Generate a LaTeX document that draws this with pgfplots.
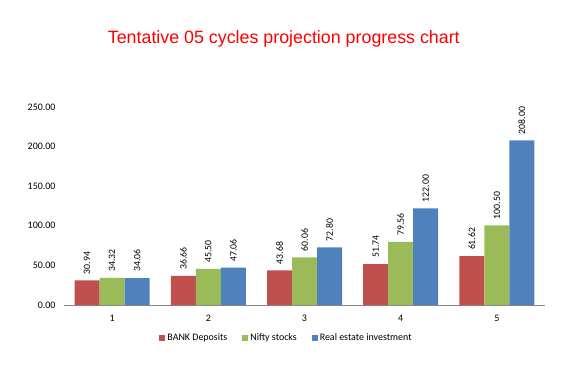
\documentclass[border=0pt]{standalone}
\usepackage{pgfplots}
\pgfplotsset{compat=1.18}
\usepackage{fontspec}
\setmainfont{Carlito}
\newfontfamily\titlefont{Liberation Sans}
\definecolor{cRed}{HTML}{C0504D}
\definecolor{cGreen}{HTML}{9BBB59}
\definecolor{cBlue}{HTML}{4F81BD}
\definecolor{axgray}{HTML}{868686}
\begin{document}
\begin{tikzpicture}
\begin{axis}[
  at={(0,0)}, anchor=south west,
  scale only axis, width=481bp, height=198bp,
  xmin=0.5, xmax=5.5, ymin=0, ymax=250,
  ybar=0pt, bar width=25bp,
  xtick={1,2,3,4,5},
  ytick={0,50,100,150,200,250},
  major tick length=0pt,
  axis lines*=left,
  x axis line style={draw=axgray, line width=0.8pt, -},
  y axis line style={draw=none},
  /pgf/number format/assume math mode=true,
  yticklabel style={font=\fontsize{10}{12}\selectfont, /pgf/number format/.cd, fixed, fixed zerofill, precision=2, assume math mode=true, /tikz/.cd, xshift=-5bp},
  xticklabel style={font=\fontsize{10}{12}\selectfont, yshift=-7bp},
  scaled y ticks=false,
  title={\titlefont Tentative 05 cycles projection progress chart},
  title style={at={(0.457,1.313)}, anchor=center, text=red, font=\fontsize{17.9}{20}\selectfont},
  nodes near coords,
  nodes near coords style={font=\fontsize{9.8}{11}\selectfont, rotate=90, anchor=west, inner xsep=6bp, /pgf/number format/.cd, fixed, fixed zerofill, precision=2, assume math mode=true},
  legend style={at={(0.4626,-0.1667)}, anchor=center, draw=none, font=\fontsize{10}{12}\selectfont, legend columns=3, /tikz/every even column/.append style={column sep=13bp}},
  legend image code/.code={\fill[#1] (0bp,-3bp) rectangle (6bp,3bp);},
  clip=false,
]
\addplot[fill=cRed, draw=none] coordinates {(1,30.94) (2,36.66) (3,43.68) (4,51.74) (5,61.62)};
\addplot[fill=cGreen, draw=none] coordinates {(1,34.32) (2,45.50) (3,60.06) (4,79.56) (5,100.50)};
\addplot[fill=cBlue, draw=none] coordinates {(1,34.06) (2,47.06) (3,72.80) (4,122.00) (5,208.00)};
\legend{BANK Deposits, Nifty stocks, Real estate investment}
\end{axis}
\path (-64bp,-73bp) rectangle (507bp,305bp);
\end{tikzpicture}
\end{document}
